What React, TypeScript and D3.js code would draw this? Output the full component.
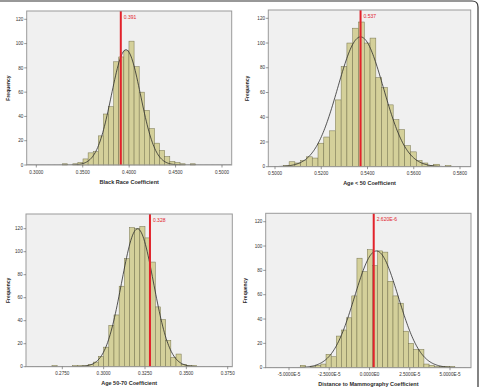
import React from "react";
import * as d3 from "d3";

// Bootstrap histograms of four regression coefficients, with a normal fit
// and the point estimate marked in red.

const titles = [
  "Black Race Coefficient",
  "Age < 50 Coefficient",
  "Age 50-70 Coefficient",
  "Distance to Mammography Coefficient",
];

// bin counts, left to right
const blackRaceCounts = [1, 0, 1, 2, 5, 10, 11, 24, 42, 48, 85, 89, 94, 102, 81, 60, 45, 30, 18, 12, 7, 3, 2, 1, 0, 1];
const ageUnder50Counts = [1, 4, 3, 5, 8, 7, 19, 24, 29, 54, 81, 100, 112, 117, 100, 104, 72, 64, 50, 38, 30, 17, 12, 5, 3, 1, 2, 0, 1];
const age50to70Counts = [1, 0, 0, 0, 1, 1, 1, 2, 4, 9, 17, 36, 45, 70, 94, 121, 120, 122, 112, 91, 52, 41, 23, 8, 11, 2, 1, 1];
const distanceCounts = [2, 0, 1, 2, 3, 11, 9, 26, 31, 41, 59, 90, 79, 97, 84, 96, 95, 71, 59, 53, 30, 20, 15, 15, 3, 2, 1, 1, 1, 1];

const binStarts = [0.3283, 0.5036, 0.26875, -4.3e-5];
const binWidths = [0.0055, 0.0025, 0.003125, 0.32e-5];

// normal curve drawn over each histogram
const fitMeans = [0.3966, 0.537, 0.3205, 0.43e-5];
const fitSds = [0.0157, 0.0099, 0.0097, 1.36e-5];
const fitPeaks = [95, 105, 120, 96];

// point estimates (red line)
const estimates = [0.391, 0.537, 0.328, 2.62e-6];
const estimateLabels = ["0.391", "0.537", "0.328", "2.620E-6"];

const xTicks = [
  [0.3, 0.35, 0.4, 0.45, 0.5],
  [0.5, 0.52, 0.54, 0.56, 0.58],
  [0.275, 0.3, 0.325, 0.35, 0.375],
  [-5e-5, -2.5e-5, 0, 2.5e-5, 5e-5],
];
const yTicks = [0, 20, 40, 60, 80, 100, 120];

const allCounts = [blackRaceCounts, ageUnder50Counts, age50to70Counts, distanceCounts];

// pixel layout of each panel: first/last x tick, 0 and 120 on y, plot box
const layout = [
  { tx: [36.3, 222], ty: [165, 19.3], left: 26.7, right: 231.7, top: 11, titleY: 183.5, yTitleX: 10 },
  { tx: [275, 460], ty: [166.7, 18.3], left: 268.3, right: 470.7, top: 10, titleY: 184.5, yTitleX: 249 },
  { tx: [62.3, 227.7], ty: [366.7, 228.7], left: 26, right: 232.3, top: 214, titleY: 384.5, yTitleX: 10 },
  { tx: [289, 450], ty: [367.7, 221.7], left: 265.7, right: 471, top: 213.3, titleY: 386, yTitleX: 247 },
];

const fmtFixed = d3.format(".4f");
const fmtExp = (v: number) =>
  v === 0 ? "0.0000E0" : v.toExponential(4).replace("e", "E").replace("+", "");

const FONT = "'Liberation Sans', Arial, sans-serif";

function Histogram({ i }: { i: number }) {
  const L = layout[i];
  const ticks = xTicks[i];
  const x = d3.scaleLinear().domain([ticks[0], ticks[ticks.length - 1]]).range(L.tx);
  const y = d3.scaleLinear().domain([0, 120]).range(L.ty);
  const base = y(0);
  const counts = allCounts[i];
  const w = binWidths[i];
  const fmt = i === 3 ? fmtExp : fmtFixed;

  const [d0, d1] = [x.invert(L.left), x.invert(L.right)];
  const samples = d3.range(0, 241).map(k => d0 + ((d1 - d0) * k) / 240);
  const curve = d3
    .line<number>()
    .x(v => x(v))
    .y(v => y(fitPeaks[i] * Math.exp(-0.5 * ((v - fitMeans[i]) / fitSds[i]) ** 2)))
    .curve(d3.curveBasis)(samples);

  const ex = x(estimates[i]);
  const clipId = `clip${i}`;

  return (
    <g>
      <defs>
        <clipPath id={clipId}>
          <rect x={L.left} y={L.top} width={L.right - L.left} height={base - L.top} />
        </clipPath>
      </defs>
      <rect x={L.left} y={L.top} width={L.right - L.left} height={base - L.top} fill="#f0f0f0" />

      {counts.map((c, k) =>
        c > 0 ? (
          <rect
            key={k}
            x={x(binStarts[i] + k * w)}
            y={y(c)}
            width={x(binStarts[i] + (k + 1) * w) - x(binStarts[i] + k * w)}
            height={base - y(c)}
            fill="#d4d09a"
            stroke="#75724d"
            strokeWidth={0.5}
          />
        ) : null
      )}

      <path d={curve ?? ""} fill="none" stroke="#2b2b2b" strokeWidth={0.8} clipPath={`url(#${clipId})`} />

      <line x1={ex} x2={ex} y1={L.top} y2={base} stroke="#e2222b" strokeWidth={2} />
      <text x={ex + 3} y={L.top + 7.5} fontSize={5} fill="#e2222b" fontFamily={FONT}>
        {estimateLabels[i]}
      </text>

      <rect x={L.left} y={L.top} width={L.right - L.left} height={base - L.top} fill="none" stroke="#9a9a9a" strokeWidth={1} />

      {yTicks.map(t => (
        <g key={t}>
          <line x1={L.left - 2.5} x2={L.left} y1={y(t)} y2={y(t)} stroke="#555" strokeWidth={0.6} />
          <text x={L.left - 3.3} y={y(t) + 1.7} fontSize={4.6} textAnchor="end" fill="#333" fontFamily={FONT}>
            {t}
          </text>
        </g>
      ))}
      {ticks.map(t => (
        <g key={t}>
          <line x1={x(t)} x2={x(t)} y1={base} y2={base + 2.5} stroke="#555" strokeWidth={0.6} />
          <text x={x(t)} y={base + 8.6} fontSize={4.6} textAnchor="middle" fill="#333" fontFamily={FONT}>
            {fmt(t)}
          </text>
        </g>
      ))}

      <text
        x={(L.left + L.right) / 2}
        y={L.titleY}
        fontSize={5.5}
        fontWeight="bold"
        textAnchor="middle"
        fill="#2a2a2a"
        fontFamily={FONT}
      >
        {titles[i]}
      </text>
      <text
        transform={`translate(${L.yTitleX},${(L.top + base) / 2}) rotate(-90)`}
        fontSize={5}
        fontWeight="bold"
        textAnchor="middle"
        fill="#2a2a2a"
        fontFamily={FONT}
      >
        Frequency
      </text>
    </g>
  );
}

export default function App() {
  return (
    <div style={{ position: "absolute", left: 0, top: 0 }}>
      <svg width={481} height={387} style={{ display: "block", background: "#fff" }}>
        {[0, 1, 2, 3].map(i => (
          <Histogram key={i} i={i} />
        ))}
        <path d="M0,1 H472 Q478,1 478,7 V387" fill="none" stroke="#333" strokeWidth={1.2} />
      </svg>
    </div>
  );
}
